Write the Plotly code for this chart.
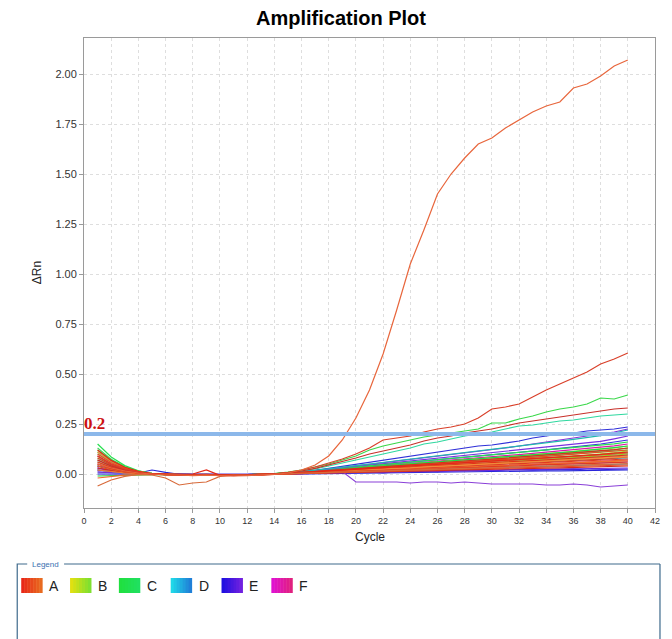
import plotly.graph_objects as go

# ---------------- data ----------------
cycles = list(range(1, 41))
x_ticks = list(range(0, 43, 2))
y_ticks = [0.0, 0.25, 0.5, 0.75, 1.0, 1.25, 1.5, 1.75, 2.0]
threshold = 0.2
legend_groups = ["A", "B", "C", "D", "E", "F"]

# bulk wells
b01 = [0.08,0.045,0.022,0.008,0.001,-0.003,-0.004,-0.006,-0.004,-0.007,-0.008,-0.006,-0.004,-0.001,0.002,0.004,0.006,0.008,0.011,0.012,0.016,0.017,0.02,0.021,0.025,0.026,0.03,0.031,0.033,0.037,0.038,0.04,0.044,0.045,0.049,0.05,0.052,0.056,0.057,0.06]
b02 = [0.05,0.028,0.014,0.005,0.0,-0.002,-0.001,-0.004,-0.006,-0.005,-0.004,-0.007,-0.003,0.0,0.001,0.004,0.008,0.011,0.014,0.018,0.021,0.025,0.029,0.031,0.036,0.039,0.042,0.046,0.05,0.052,0.057,0.06,0.063,0.067,0.071,0.074,0.078,0.082,0.086,0.09]
b03 = [0.03,0.017,0.008,0.003,0.0,0.001,-0.002,-0.003,-0.002,-0.006,-0.005,-0.004,-0.002,-0.001,0.0,0.002,0.004,0.005,0.007,0.008,0.01,0.011,0.013,0.014,0.016,0.017,0.019,0.02,0.022,0.023,0.025,0.026,0.028,0.029,0.031,0.033,0.034,0.036,0.038,0.04]
b04 = [0.10,0.056,0.028,0.01,0.001,-0.003,-0.005,-0.005,-0.003,-0.006,-0.007,-0.005,-0.003,0.0,0.004,0.007,0.012,0.016,0.021,0.025,0.03,0.034,0.038,0.043,0.048,0.052,0.056,0.061,0.066,0.07,0.074,0.079,0.083,0.088,0.093,0.097,0.102,0.107,0.113,0.12]
b05 = [0.06,0.034,0.017,0.006,0.0,-0.002,-0.003,-0.005,-0.003,-0.006,-0.006,-0.004,-0.002,0.001,0.004,0.009,0.014,0.019,0.024,0.029,0.034,0.039,0.044,0.049,0.054,0.059,0.064,0.069,0.074,0.079,0.085,0.09,0.096,0.101,0.107,0.113,0.118,0.124,0.131,0.14]
b06 = [0.02,0.011,0.005,0.002,0.0,0.001,-0.002,-0.003,-0.002,-0.005,-0.005,-0.004,-0.002,0.0,0.002,0.005,0.009,0.012,0.016,0.019,0.023,0.026,0.03,0.033,0.037,0.04,0.044,0.048,0.052,0.055,0.059,0.063,0.067,0.071,0.075,0.079,0.084,0.088,0.094,0.10]
b07 = [0.15,0.085,0.042,0.016,0.003,-0.003,-0.004,-0.006,-0.004,-0.006,-0.007,-0.005,-0.003,0.001,0.005,0.011,0.017,0.023,0.029,0.035,0.041,0.047,0.053,0.059,0.064,0.07,0.076,0.082,0.088,0.094,0.1,0.106,0.112,0.118,0.124,0.13,0.136,0.143,0.151,0.16]
b08 = [0.13,0.074,0.037,0.014,0.002,-0.002,-0.003,-0.005,-0.004,-0.006,-0.006,-0.004,-0.003,0.0,0.003,0.007,0.012,0.016,0.021,0.025,0.03,0.034,0.038,0.043,0.047,0.052,0.056,0.061,0.065,0.07,0.074,0.079,0.084,0.089,0.094,0.099,0.104,0.109,0.114,0.12]
b09 = [-0.01,-0.008,-0.005,-0.003,-0.001,-0.002,-0.003,-0.004,-0.003,-0.005,-0.005,-0.004,-0.002,0.0,0.003,0.008,0.013,0.018,0.022,0.027,0.032,0.036,0.041,0.046,0.05,0.055,0.06,0.064,0.069,0.074,0.078,0.083,0.088,0.093,0.098,0.103,0.108,0.114,0.121,0.13]
b10 = [0.0,-0.001,-0.002,-0.002,-0.001,-0.002,-0.002,-0.003,-0.002,-0.004,-0.004,-0.003,-0.002,0.0,0.002,0.005,0.008,0.011,0.014,0.017,0.02,0.023,0.026,0.029,0.032,0.035,0.038,0.041,0.044,0.047,0.05,0.053,0.056,0.059,0.062,0.065,0.068,0.072,0.076,0.08]
b11 = [0.04,0.022,0.011,0.004,0.0,-0.001,-0.002,-0.004,-0.003,-0.005,-0.005,-0.003,-0.002,0.0,0.002,0.004,0.006,0.008,0.01,0.011,0.013,0.015,0.017,0.019,0.021,0.023,0.025,0.027,0.029,0.03,0.032,0.034,0.036,0.038,0.04,0.042,0.044,0.046,0.048,0.05]
b12 = [0.01,0.006,0.003,0.005,0.02,0.008,-0.002,-0.003,-0.002,-0.004,-0.004,-0.003,-0.002,-0.001,0.0,0.001,0.002,0.003,0.004,0.005,0.006,0.006,0.007,0.008,0.009,0.01,0.01,0.011,0.012,0.013,0.013,0.014,0.015,0.016,0.016,0.017,0.018,0.018,0.019,0.02]
b13 = [0.06,0.034,0.017,0.006,0.0,-0.002,-0.003,-0.004,-0.003,-0.005,-0.005,-0.004,-0.002,0.001,0.004,0.01,0.016,0.022,0.028,0.034,0.04,0.046,0.052,0.058,0.064,0.07,0.076,0.082,0.088,0.094,0.1,0.107,0.114,0.121,0.128,0.135,0.142,0.15,0.16,0.17]
b14 = [0.02,0.011,0.005,0.002,0.0,-0.001,-0.002,-0.003,-0.002,-0.004,-0.004,-0.003,-0.002,-0.001,0.0,0.001,0.003,0.004,0.005,0.006,0.007,0.009,0.01,0.011,0.012,0.013,0.015,0.016,0.017,0.018,0.02,0.021,0.022,0.023,0.024,0.025,0.027,0.028,0.029,0.03]
b15 = [0.03,0.017,0.008,0.003,0.0,-0.002,-0.003,-0.004,-0.003,-0.005,-0.005,-0.004,-0.002,0.0,0.002,0.004,0.007,0.009,0.012,0.014,0.017,0.019,0.022,0.024,0.027,0.029,0.032,0.034,0.037,0.039,0.042,0.044,0.047,0.05,0.053,0.056,0.059,0.062,0.066,0.07]
b16 = [0.09,0.05,0.025,0.009,0.001,-0.002,-0.004,-0.005,-0.003,-0.006,-0.006,-0.004,-0.002,0.001,0.004,0.009,0.015,0.02,0.026,0.031,0.037,0.042,0.048,0.053,0.059,0.064,0.07,0.075,0.081,0.086,0.092,0.097,0.103,0.108,0.114,0.12,0.126,0.133,0.141,0.15]
b17 = [0.12,0.068,0.034,0.013,0.002,-0.003,-0.004,0.0,0.02,-0.007,-0.007,-0.005,-0.003,0.0,0.003,0.007,0.011,0.015,0.019,0.023,0.027,0.031,0.035,0.039,0.043,0.047,0.051,0.055,0.059,0.063,0.067,0.071,0.075,0.079,0.083,0.088,0.093,0.098,0.104,0.11]
b18 = [-0.02,-0.012,-0.006,-0.003,-0.001,-0.002,-0.003,-0.004,-0.003,-0.005,-0.005,-0.004,-0.002,0.0,0.002,0.004,0.007,0.009,0.012,0.014,0.017,0.019,0.022,0.024,0.027,0.029,0.032,0.034,0.037,0.039,0.042,0.044,0.047,0.05,0.053,0.056,0.059,0.062,0.066,0.07]
b19 = [0.0,-0.001,-0.002,-0.002,-0.001,-0.002,-0.002,-0.003,-0.002,-0.004,-0.004,-0.003,-0.002,0.001,0.004,0.01,0.017,0.024,0.031,0.037,0.044,0.051,0.057,0.064,0.07,0.077,0.083,0.09,0.097,0.104,0.111,0.118,0.125,0.132,0.139,0.147,0.155,0.163,0.176,0.19]
b20 = [0.04,0.022,0.011,0.004,0.0,-0.002,-0.003,-0.005,-0.003,-0.006,-0.006,-0.004,-0.002,0.0,0.002,0.005,0.008,0.011,0.014,0.017,0.02,0.023,0.026,0.029,0.032,0.035,0.038,0.041,0.044,0.047,0.05,0.053,0.056,0.059,0.062,0.066,0.07,0.074,0.079,0.085]
r01 = [0.06,0.033,0.016,0.006,0.0,-0.003,-0.004,-0.004,-0.005,-0.006,-0.007,-0.005,-0.003,0.0,0.003,0.006,0.009,0.011,0.014,0.018,0.02,0.024,0.026,0.029,0.033,0.035,0.038,0.042,0.044,0.047,0.05,0.054,0.056,0.058,0.062,0.064,0.067,0.07,0.072,0.075]
r02 = [0.02,0.012,0.006,0.002,0.0,-0.002,-0.003,-0.005,-0.004,-0.006,-0.005,-0.004,-0.002,0.0,0.002,0.005,0.007,0.01,0.013,0.015,0.018,0.02,0.024,0.026,0.028,0.031,0.034,0.036,0.039,0.041,0.043,0.046,0.049,0.05,0.053,0.056,0.058,0.06,0.063,0.065]
r03 = [0.09,0.05,0.026,0.01,0.001,-0.003,-0.005,-0.006,-0.004,-0.007,-0.008,-0.006,-0.003,0.0,0.003,0.007,0.011,0.014,0.018,0.021,0.025,0.028,0.032,0.035,0.039,0.042,0.046,0.05,0.053,0.057,0.06,0.064,0.068,0.071,0.075,0.078,0.082,0.086,0.09,0.095]
r04 = [0.04,0.023,0.011,0.004,0.0,-0.002,-0.004,-0.005,-0.003,-0.006,-0.006,-0.005,-0.003,0.0,0.003,0.007,0.011,0.015,0.019,0.022,0.026,0.03,0.034,0.038,0.041,0.045,0.049,0.053,0.057,0.061,0.065,0.069,0.073,0.077,0.081,0.085,0.089,0.094,0.1,0.105]
r05 = [0.07,0.039,0.019,0.007,0.0,-0.003,-0.004,-0.005,-0.004,-0.006,-0.007,-0.005,-0.003,-0.001,0.001,0.003,0.005,0.006,0.008,0.01,0.012,0.013,0.015,0.017,0.019,0.02,0.022,0.024,0.026,0.028,0.029,0.031,0.033,0.035,0.036,0.038,0.04,0.041,0.043,0.045]
r06 = [0.11,0.062,0.031,0.012,0.002,-0.003,-0.004,-0.006,-0.004,-0.007,-0.007,-0.005,-0.003,0.0,0.003,0.006,0.01,0.012,0.016,0.02,0.022,0.026,0.029,0.031,0.036,0.038,0.042,0.044,0.048,0.052,0.054,0.058,0.061,0.064,0.068,0.07,0.074,0.078,0.081,0.085]
r07 = [0.05,0.028,0.014,0.005,0.0,-0.002,-0.003,-0.005,-0.004,-0.006,-0.006,-0.004,-0.002,0.001,0.004,0.008,0.013,0.018,0.023,0.027,0.032,0.037,0.041,0.046,0.051,0.055,0.06,0.065,0.07,0.074,0.079,0.084,0.089,0.094,0.099,0.104,0.109,0.115,0.122,0.13]
g01 = [0.08,0.045,0.022,0.009,0.001,-0.002,-0.003,-0.005,-0.003,-0.005,-0.006,-0.004,-0.002,0.001,0.004,0.008,0.012,0.016,0.02,0.024,0.028,0.032,0.036,0.04,0.044,0.048,0.052,0.056,0.06,0.064,0.068,0.072,0.076,0.08,0.084,0.088,0.092,0.096,0.1,0.105]
g02 = [0.11,0.063,0.032,0.012,0.002,-0.003,-0.003,-0.005,-0.004,-0.006,-0.006,-0.004,-0.002,0.001,0.004,0.009,0.014,0.019,0.025,0.03,0.035,0.04,0.045,0.05,0.055,0.06,0.065,0.07,0.075,0.08,0.085,0.09,0.095,0.1,0.106,0.112,0.118,0.124,0.132,0.14]
g03 = [0.04,0.022,0.011,0.004,0.0,-0.002,-0.003,-0.004,-0.003,-0.005,-0.005,-0.004,-0.002,0.0,0.003,0.007,0.011,0.015,0.019,0.023,0.027,0.031,0.035,0.039,0.043,0.047,0.051,0.055,0.059,0.063,0.067,0.071,0.076,0.08,0.085,0.09,0.095,0.1,0.107,0.115]
p01 = [0.01,0.006,0.003,0.001,0.0,-0.001,-0.002,-0.003,-0.002,-0.004,-0.004,-0.003,-0.002,0.0,0.002,0.004,0.006,0.009,0.011,0.014,0.016,0.019,0.021,0.022,0.026,0.028,0.031,0.033,0.034,0.038,0.04,0.042,0.045,0.046,0.05,0.052,0.055,0.056,0.058,0.06]
bl01 = [0.02,0.011,0.005,0.002,0.0,-0.001,-0.002,-0.003,-0.002,-0.004,-0.004,-0.003,-0.002,-0.001,0.0,0.002,0.003,0.005,0.006,0.008,0.01,0.006,0.012,0.014,0.015,0.012,0.017,0.018,0.02,0.016,0.021,0.022,0.019,0.022,0.023,0.024,0.02,0.022,0.024,0.025]
m01 = [0.05,0.028,0.014,0.005,0.0,-0.002,-0.003,-0.005,-0.003,-0.006,-0.006,-0.004,-0.002,0.0,0.003,0.007,0.011,0.014,0.018,0.022,0.026,0.029,0.033,0.037,0.041,0.044,0.048,0.052,0.056,0.06,0.064,0.068,0.072,0.076,0.08,0.085,0.09,0.095,0.1,0.11]
c02 = [0.03,0.017,0.008,0.003,0.0,-0.002,-0.002,-0.004,-0.003,-0.005,-0.005,-0.003,-0.002,0.0,0.002,0.005,0.009,0.012,0.015,0.019,0.022,0.026,0.029,0.033,0.036,0.04,0.043,0.047,0.05,0.054,0.057,0.061,0.064,0.068,0.072,0.076,0.08,0.084,0.089,0.095]

# standout wells
s_blue = [0.04,0.025,0.012,0.005,0.0,-0.002,-0.002,-0.003,-0.002,-0.004,-0.004,-0.003,-0.002,0.0,0.004,0.01,0.018,0.028,0.038,0.05,0.06,0.07,0.08,0.09,0.10,0.11,0.12,0.13,0.14,0.145,0.155,0.165,0.18,0.19,0.20,0.205,0.215,0.22,0.225,0.235]
s_purple = [0.03,0.017,0.008,0.003,0.0,-0.002,-0.002,-0.003,-0.002,-0.004,-0.004,-0.003,-0.002,0.0,0.004,0.009,0.016,0.024,0.032,0.04,0.048,0.056,0.064,0.072,0.08,0.088,0.096,0.104,0.112,0.12,0.13,0.14,0.15,0.16,0.17,0.18,0.19,0.2,0.21,0.225]
s_teal = [0.07,0.04,0.02,0.007,0.0,-0.002,-0.003,-0.004,-0.003,-0.005,-0.005,-0.004,-0.002,0.001,0.005,0.011,0.018,0.026,0.034,0.042,0.05,0.058,0.065,0.073,0.081,0.089,0.097,0.105,0.113,0.121,0.129,0.137,0.146,0.155,0.164,0.173,0.182,0.192,0.205,0.22]
s_drop = [0.02,0.012,0.005,0.002,0.0,-0.002,-0.002,-0.003,-0.002,-0.003,-0.003,-0.002,-0.001,0.0,0.002,0.005,0.008,0.01,0.012,-0.04,-0.04,-0.042,-0.04,-0.045,-0.04,-0.04,-0.045,-0.04,-0.045,-0.05,-0.05,-0.05,-0.05,-0.055,-0.055,-0.05,-0.055,-0.065,-0.06,-0.055]
s_dip = [-0.06,-0.03,-0.012,-0.002,-0.005,-0.02,-0.055,-0.045,-0.04,-0.012,-0.006,-0.004,-0.002,0.0,0.002,0.004,0.006,0.008,0.01,0.012,0.014,0.016,0.018,0.02,0.022,0.024,0.026,0.028,0.03,0.032,0.034,0.036,0.038,0.04,0.042,0.044,0.046,0.048,0.05,0.052]
s_cyan = [0.10,0.06,0.03,0.012,0.002,-0.003,-0.003,-0.004,-0.003,-0.005,-0.005,-0.004,-0.002,0.001,0.006,0.014,0.025,0.04,0.055,0.07,0.085,0.10,0.115,0.13,0.15,0.16,0.175,0.19,0.20,0.21,0.225,0.24,0.245,0.255,0.265,0.27,0.28,0.29,0.295,0.30]
s_red33 = [0.07,0.04,0.02,0.008,0.0,-0.004,-0.005,-0.006,-0.004,-0.006,-0.008,-0.005,-0.003,0.001,0.006,0.015,0.028,0.045,0.06,0.08,0.10,0.115,0.13,0.145,0.165,0.18,0.19,0.205,0.215,0.225,0.24,0.255,0.265,0.275,0.285,0.295,0.305,0.315,0.325,0.33]
s_green40 = [0.12,0.07,0.035,0.015,0.003,-0.003,-0.004,-0.005,-0.003,-0.005,-0.006,-0.004,-0.002,0.002,0.01,0.02,0.035,0.05,0.07,0.09,0.12,0.14,0.155,0.17,0.185,0.195,0.205,0.215,0.225,0.255,0.255,0.275,0.29,0.31,0.325,0.335,0.35,0.38,0.375,0.395]
s_red60 = [0.09,0.05,0.025,0.01,0.0,-0.005,-0.004,-0.006,-0.004,-0.008,-0.007,-0.006,-0.004,0.0,0.008,0.02,0.035,0.055,0.075,0.10,0.13,0.17,0.18,0.19,0.21,0.225,0.235,0.25,0.28,0.325,0.335,0.35,0.385,0.42,0.45,0.48,0.51,0.55,0.575,0.605]
s_amp = [0.05,0.03,0.015,0.005,0.0,-0.005,-0.005,-0.008,-0.006,-0.008,-0.01,-0.008,-0.005,-0.002,0.005,0.02,0.045,0.09,0.17,0.28,0.42,0.60,0.82,1.05,1.22,1.40,1.50,1.58,1.65,1.68,1.73,1.77,1.81,1.84,1.86,1.93,1.95,1.99,2.04,2.07]

series_values = [b12, bl01, b14, p01, b10, c02, b11, b15, m01, b16, b13, b19, b06, b05, g03,
                 b09, b08, g01, b07, g02,
                 s_drop, s_blue, s_purple, s_teal, s_cyan, s_green40,
                 b03, r02, b20, r05, b18, r01, b02, r03, r06, r04, b04, r07, b01, b17,
                 s_dip, s_red33, s_red60, s_amp]

# ---------------- styles ----------------
series_colors = ["#2828d8", "#3020e0", "#6a2ad8", "#8030d0", "#28c8e0", "#20b0e0", "#1e98d0", "#e020c0",
                 "#d020b0", "#d818a8", "#3a30e0", "#7a30e0", "#8ed828", "#b8d820", "#a8e030",
                 "#20c840", "#40d860", "#30e050", "#28e050", "#20d848",
                 "#8a40d8", "#3030d8", "#8a30d8", "#20b8b0", "#30d8a0", "#3ad84a",
                 "#d42a1a", "#f07a30", "#c03020", "#e84a22", "#f06a28", "#e03a22", "#f07830",
                 "#e23018", "#f08a3a", "#e85a28", "#e85020", "#d83020", "#e03a22", "#e42818",
                 "#d86a3a", "#c8302a", "#d9402a", "#e8663c"]
legend_colors = [("#e82818", "#e86a20"), ("#e0e010", "#80e030"), ("#20e040", "#20e060"),
                 ("#20d8e8", "#2080d8"), ("#2010e0", "#7020e0"), ("#e010d0", "#e02080")]

fig = go.Figure()
for vals, col in zip(series_values, series_colors):
    fig.add_trace(go.Scatter(x=cycles, y=vals, mode="lines",
                             line=dict(color=col, width=1.2), showlegend=False,
                             hoverinfo="skip"))

# threshold line
fig.add_shape(type="line", xref="paper", yref="y", x0=0, x1=1, y0=threshold, y1=threshold,
              line=dict(color="#8cb8ea", width=4), layer="above")
fig.add_annotation(xref="paper", yref="y", x=0, y=threshold, xanchor="left", yanchor="bottom",
                   text="<b>%g</b>" % threshold, showarrow=False, yshift=-1, xshift=-2,
                   font=dict(family="Liberation Serif", size=17, color="#cc1111"))

W, H = 672, 639
ML, MR, MT, MB = 84, 15, 38, 131
pw, ph = W - ML - MR, H - MT - MB

def px_x(p):
    return (p - ML) / pw

def px_y(p):
    return (H - MB - p) / ph

# axis titles
fig.add_annotation(xref="paper", yref="paper", x=px_x(37), y=px_y(273), text="ΔRn",
                   textangle=-90, showarrow=False, xanchor="center", yanchor="middle",
                   font=dict(family="Liberation Sans", size=12, color="#222"))
fig.add_annotation(xref="paper", yref="paper", x=0.5, y=px_y(537), text="Cycle",
                   showarrow=False, xanchor="center", yanchor="middle",
                   font=dict(family="Liberation Sans", size=12, color="#222"))

# legend box
fig.add_shape(type="path", xref="paper", yref="paper",
              path="M %f,%f L %f,%f L %f,%f L %f,%f L %f,%f" % (
                  px_x(27), px_y(564), px_x(17), px_y(564), px_x(17), px_y(660),
                  px_x(662), px_y(660), px_x(662), px_y(564)),
              line=dict(color="#3f6a8c", width=1.2))
fig.add_shape(type="line", xref="paper", yref="paper", x0=px_x(64), x1=px_x(662),
              y0=px_y(564), y1=px_y(564), line=dict(color="#3f6a8c", width=1.2))
fig.add_annotation(xref="paper", yref="paper", x=px_x(30), y=px_y(564), text="Legend",
                   showarrow=False, xanchor="left", yanchor="middle",
                   font=dict(family="Liberation Sans", size=8, color="#3a70b0"))

sq_x = [21, 70, 119, 171, 222, 272]
nslice = 7
for name, x0, (c1, c2) in zip(legend_groups, sq_x, legend_colors):
    r1, g1, bb1 = int(c1[1:3], 16), int(c1[3:5], 16), int(c1[5:7], 16)
    r2, g2, bb2 = int(c2[1:3], 16), int(c2[3:5], 16), int(c2[5:7], 16)
    for i in range(nslice):
        t = i / (nslice - 1)
        col = "rgb(%d,%d,%d)" % (r1 + (r2 - r1) * t, g1 + (g2 - g1) * t, bb1 + (bb2 - bb1) * t)
        sx0 = x0 + 21 * i / nslice
        sx1 = x0 + 21 * (i + 1) / nslice
        fig.add_shape(type="rect", xref="paper", yref="paper",
                      x0=px_x(sx0), x1=px_x(sx1 + 0.5), y0=px_y(593), y1=px_y(578),
                      line=dict(width=0), fillcolor=col)
    fig.add_annotation(xref="paper", yref="paper", x=px_x(x0 + 26), y=px_y(586), text=name,
                       showarrow=False, xanchor="left", yanchor="middle",
                       font=dict(family="Liberation Sans", size=14, color="#222"))

fig.update_layout(
    width=W, height=H,
    margin=dict(l=ML, r=MR, t=MT, b=MB, pad=0),
    paper_bgcolor="white", plot_bgcolor="white",
    title=dict(text="<b>Amplification Plot</b>", x=341 / W, xanchor="center",
               y=1 - 18 / H, yanchor="middle",
               font=dict(family="Liberation Sans", size=20, color="#000")),
    xaxis=dict(range=[0, 42], tickvals=x_ticks, ticktext=[str(v) for v in x_ticks],
               showgrid=True, gridcolor="#dedede", griddash="3px,3px", gridwidth=1,
               showline=True, linecolor="#9a9a9a", linewidth=1, mirror=True,
               ticks="outside", ticklen=4, tickcolor="#9a9a9a", zeroline=False,
               tickfont=dict(family="Liberation Sans", size=9, color="#333")),
    yaxis=dict(range=[-0.17, 2.18], tickvals=y_ticks, ticktext=["%.2f" % v for v in y_ticks],
               showgrid=True, gridcolor="#dedede", griddash="3px,3px", gridwidth=1,
               showline=True, linecolor="#9a9a9a", linewidth=1, mirror=True,
               ticks="outside", ticklen=4, tickcolor="#9a9a9a", zeroline=False,
               tickfont=dict(family="Liberation Sans", size=11, color="#333")),
)

fig.write_html("out.html", config={"displayModeBar": False},
               post_script="document.body.style.margin='0px';document.body.style.padding='0px';")
